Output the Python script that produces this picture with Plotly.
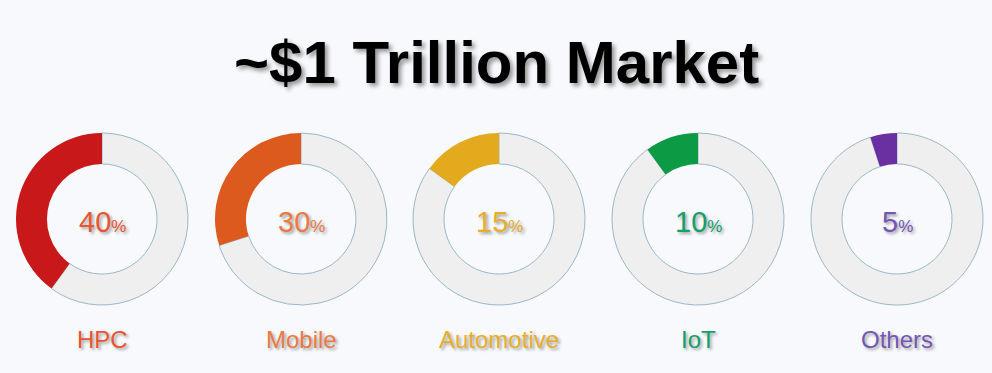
import plotly.graph_objects as go

categories = ["HPC", "Mobile", "Automotive", "IoT", "Others"]
shares = [40, 30, 15, 10, 5]
title_text = "~$1 Trillion Market"

seg_colors = ["#c8181a", "#dc5a1e", "#e2aa1c", "#0d9a44", "#6a2fa0"]
text_colors = ["#e8552e", "#ea7a45", "#e6ae2a", "#13a06a", "#7456b5"]
ring_color = "#efefef"
ring_line = "#9ab8c8"

W, H = 992, 373
centers_x = [102, 301, 499, 698, 897]
center_y = 219
radius = 86

fig = go.Figure()
shadow = "2px 2px 3px rgba(0,0,0,0.35)"

for i, (cat, val) in enumerate(zip(categories, shares)):
    cx = centers_x[i]
    x0 = (cx - radius) / W
    x1 = (cx + radius) / W
    y0 = 1 - (center_y + radius) / H
    y1 = 1 - (center_y - radius) / H
    fig.add_trace(go.Pie(
        values=[100 - val, val],
        labels=["rest", cat],
        hole=0.64,
        sort=False,
        direction="clockwise",
        rotation=0,
        textinfo="none",
        hoverinfo="skip",
        showlegend=False,
        marker=dict(colors=[ring_color, seg_colors[i]],
                    line=dict(color=[ring_line, seg_colors[i]], width=[1, 0])),
        domain=dict(x=[x0, x1], y=[y0, y1]),
    ))
    fig.add_annotation(
        x=cx / W, y=1 - (center_y + 3) / H, xref="paper", yref="paper",
        text=f"{val}<span style='font-size:17px'>%</span>",
        showarrow=False,
        font=dict(family="Liberation Sans, Arial", size=29, color=text_colors[i],
                  shadow=shadow),
        xanchor="center", yanchor="middle",
    )
    fig.add_annotation(
        x=cx / W, y=1 - 339 / H, xref="paper", yref="paper",
        text=cat, showarrow=False,
        font=dict(family="Liberation Sans, Arial", size=24, color=text_colors[i],
                  shadow=shadow),
        xanchor="center", yanchor="middle",
    )

fig.add_annotation(
    x=0.5, y=1 - 62 / H, xref="paper", yref="paper",
    text=f"<b>{title_text}</b>", showarrow=False,
    font=dict(family="Liberation Sans, Arial", size=60, color="#000000",
              shadow="3px 3px 4px rgba(0,0,0,0.4)"),
    xanchor="center", yanchor="middle",
)

fig.update_layout(
    width=W, height=H,
    margin=dict(l=0, r=0, t=0, b=0),
    paper_bgcolor="#f8f9fc",
    plot_bgcolor="#f8f9fc",
)

fig.write_html("out.html")
